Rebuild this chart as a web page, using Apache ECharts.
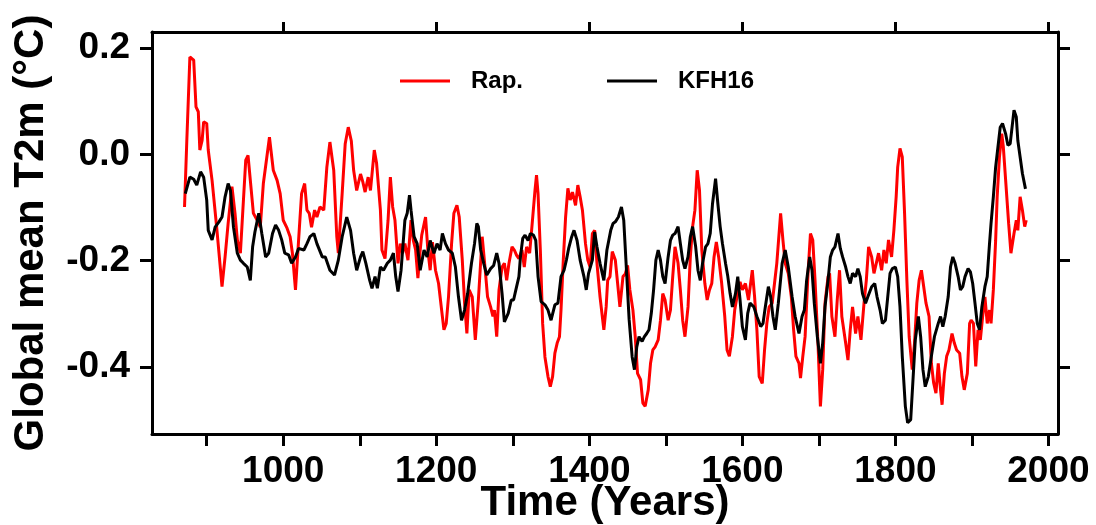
<!DOCTYPE html>
<html>
<head>
<meta charset="utf-8">
<script src="https://cdn.jsdelivr.net/npm/echarts@6/dist/echarts.min.js"></script>
<style>html,body{margin:0;padding:0;background:#fff}#c{width:1096px;height:525px}</style>
</head>
<body>
<div id="c"></div>
<script>
// ---- data ----
const seriesNames = ['Rap.', 'KFH16'];

const rapYears = [871,874,878,883,886,889,891,894,896,900,902,907,913,920,924,928,933,937,940,944,948,951,954,957,961,966,970,974,982,987,992,996,1000,1005,1009,1012,1016,1019,1022,1024,1028,1031,1034,1037,1041,1044,1048,1053,1057,1061,1066,1070,1072,1077,1081,1085,1089,1092,1096,1101,1104,1107,1111,1114,1119,1122,1127,1129,1133,1137,1140,1143,1146,1150,1153,1156,1159,1163,1167,1170,1173,1176,1179,1181,1186,1189,1192,1195,1199,1203,1207,1210,1213,1216,1220,1223,1227,1230,1234,1237,1240,1243,1247,1251,1255,1260,1264,1267,1271,1274,1276,1279,1282,1286,1289,1292,1295,1299,1302,1305,1308,1312,1315,1318,1322,1325,1329,1331,1333,1336,1339,1342,1346,1349,1352,1355,1358,1361,1363,1366,1369,1372,1375,1378,1382,1385,1388,1391,1395,1398,1401,1404,1407,1410,1414,1419,1422,1424,1427,1430,1434,1437,1440,1444,1447,1450,1453,1457,1460,1463,1467,1470,1473,1477,1480,1483,1486,1490,1493,1496,1499,1503,1506,1509,1512,1516,1519,1522,1525,1529,1532,1535,1538,1541,1544,1547,1551,1554,1557,1560,1563,1566,1569,1573,1577,1580,1583,1587,1590,1593,1597,1600,1604,1608,1613,1616,1619,1622,1626,1629,1632,1635,1639,1642,1645,1650,1653,1656,1660,1664,1667,1670,1674,1676,1679,1682,1686,1689,1692,1695,1699,1702,1705,1708,1712,1714,1717,1721,1724,1727,1730,1735,1738,1741,1744,1748,1751,1755,1759,1762,1765,1769,1772,1775,1778,1782,1785,1788,1791,1795,1798,1801,1803,1806,1809,1812,1815,1818,1822,1825,1828,1831,1834,1837,1840,1844,1847,1850,1853,1856,1859,1861,1864,1867,1870,1874,1877,1880,1884,1887,1890,1894,1897,1899,1902,1905,1908,1911,1914,1917,1920,1923,1925,1928,1931,1933,1936,1939,1941,1945,1948,1951,1955,1958,1960,1963,1966,1969,1971];
const rapValues = [-0.099,0.026,0.183,0.177,0.089,0.080,0.008,0.026,0.061,0.058,0.008,-0.049,-0.137,-0.249,-0.193,-0.130,-0.061,-0.111,-0.161,-0.186,-0.086,-0.011,-0.002,-0.049,-0.111,-0.124,-0.137,-0.055,0.032,-0.030,-0.049,-0.074,-0.124,-0.139,-0.155,-0.186,-0.255,-0.186,-0.118,-0.074,-0.055,-0.105,-0.111,-0.137,-0.105,-0.118,-0.099,-0.105,-0.024,0.023,-0.030,-0.155,-0.186,-0.074,0.020,0.051,0.025,-0.030,-0.068,-0.037,-0.052,-0.071,-0.043,-0.068,0.008,-0.017,-0.105,-0.180,-0.196,-0.124,-0.043,-0.099,-0.124,-0.205,-0.168,-0.186,-0.168,-0.199,-0.124,-0.162,-0.180,-0.233,-0.180,-0.152,-0.118,-0.180,-0.218,-0.165,-0.218,-0.243,-0.293,-0.330,-0.318,-0.268,-0.168,-0.111,-0.096,-0.118,-0.199,-0.280,-0.337,-0.255,-0.268,-0.349,-0.274,-0.155,-0.218,-0.268,-0.287,-0.305,-0.293,-0.343,-0.255,-0.212,-0.205,-0.237,-0.205,-0.174,-0.180,-0.190,-0.196,-0.180,-0.212,-0.174,-0.186,-0.136,-0.068,-0.039,-0.074,-0.180,-0.318,-0.381,-0.418,-0.437,-0.418,-0.374,-0.355,-0.343,-0.293,-0.199,-0.118,-0.064,-0.086,-0.071,-0.096,-0.058,-0.080,-0.105,-0.168,-0.199,-0.212,-0.149,-0.143,-0.205,-0.268,-0.330,-0.287,-0.237,-0.230,-0.183,-0.199,-0.243,-0.287,-0.230,-0.225,-0.209,-0.255,-0.293,-0.343,-0.412,-0.424,-0.468,-0.474,-0.443,-0.393,-0.368,-0.362,-0.349,-0.312,-0.262,-0.274,-0.312,-0.293,-0.230,-0.174,-0.205,-0.255,-0.312,-0.343,-0.287,-0.193,-0.136,-0.105,-0.030,-0.068,-0.180,-0.243,-0.274,-0.255,-0.243,-0.193,-0.165,-0.193,-0.243,-0.305,-0.368,-0.380,-0.343,-0.293,-0.268,-0.240,-0.255,-0.243,-0.274,-0.218,-0.268,-0.330,-0.418,-0.431,-0.368,-0.318,-0.287,-0.280,-0.243,-0.205,-0.111,-0.161,-0.205,-0.224,-0.268,-0.330,-0.380,-0.393,-0.421,-0.380,-0.343,-0.218,-0.149,-0.161,-0.237,-0.362,-0.474,-0.405,-0.280,-0.230,-0.224,-0.305,-0.343,-0.274,-0.218,-0.305,-0.355,-0.387,-0.330,-0.287,-0.337,-0.305,-0.349,-0.280,-0.237,-0.174,-0.193,-0.224,-0.205,-0.186,-0.218,-0.180,-0.205,-0.161,-0.193,-0.143,-0.080,-0.024,0.011,-0.005,-0.111,-0.237,-0.343,-0.405,-0.355,-0.280,-0.237,-0.218,-0.249,-0.280,-0.305,-0.393,-0.430,-0.449,-0.393,-0.443,-0.471,-0.412,-0.380,-0.368,-0.337,-0.355,-0.368,-0.374,-0.418,-0.443,-0.412,-0.318,-0.312,-0.318,-0.399,-0.330,-0.349,-0.305,-0.268,-0.318,-0.293,-0.318,-0.255,-0.162,-0.080,-0.005,0.039,0.015,-0.068,-0.130,-0.186,-0.149,-0.124,-0.143,-0.080,-0.105,-0.136,-0.124];

const kfhYears = [872,878,883,887,892,896,900,902,907,911,916,920,924,928,931,935,940,944,948,953,957,960,963,968,972,977,981,986,990,994,998,1002,1007,1011,1016,1020,1027,1031,1035,1040,1044,1051,1055,1061,1067,1072,1077,1083,1088,1092,1096,1101,1104,1108,1113,1116,1120,1123,1127,1131,1136,1140,1144,1147,1150,1154,1159,1162,1165,1167,1171,1175,1179,1184,1188,1192,1197,1201,1205,1208,1212,1216,1221,1225,1229,1233,1237,1241,1246,1250,1253,1255,1258,1262,1266,1271,1275,1279,1282,1286,1289,1294,1298,1301,1304,1308,1310,1313,1316,1320,1323,1327,1330,1333,1337,1342,1346,1350,1355,1359,1363,1367,1370,1373,1377,1380,1384,1388,1393,1396,1399,1404,1407,1410,1414,1419,1423,1428,1431,1434,1438,1442,1445,1449,1452,1456,1459,1462,1465,1469,1472,1475,1478,1481,1484,1487,1490,1493,1496,1499,1503,1506,1509,1512,1516,1519,1522,1525,1529,1532,1535,1539,1542,1545,1548,1552,1555,1558,1561,1565,1568,1571,1574,1578,1581,1584,1587,1591,1594,1597,1600,1604,1607,1610,1615,1619,1624,1627,1630,1634,1637,1640,1643,1647,1652,1656,1660,1665,1669,1674,1678,1681,1684,1688,1691,1694,1698,1702,1705,1708,1712,1715,1718,1721,1725,1728,1731,1735,1738,1741,1744,1748,1751,1754,1757,1761,1764,1769,1773,1776,1780,1783,1787,1790,1793,1796,1800,1803,1806,1809,1813,1816,1820,1823,1826,1830,1833,1836,1839,1843,1847,1851,1856,1859,1862,1865,1869,1872,1875,1878,1882,1885,1888,1891,1895,1898,1901,1904,1907,1910,1913,1917,1920,1923,1925,1928,1931,1935,1937,1940,1944,1947,1950,1952,1955,1958,1960,1963,1966,1970];
const kfhValues = [-0.074,-0.043,-0.047,-0.058,-0.033,-0.043,-0.086,-0.143,-0.161,-0.137,-0.127,-0.118,-0.080,-0.055,-0.068,-0.137,-0.186,-0.199,-0.205,-0.212,-0.237,-0.174,-0.146,-0.111,-0.149,-0.193,-0.186,-0.149,-0.133,-0.143,-0.161,-0.186,-0.189,-0.205,-0.193,-0.177,-0.180,-0.168,-0.155,-0.149,-0.168,-0.193,-0.193,-0.218,-0.227,-0.199,-0.155,-0.118,-0.143,-0.186,-0.218,-0.193,-0.183,-0.205,-0.237,-0.252,-0.230,-0.252,-0.212,-0.218,-0.205,-0.199,-0.186,-0.230,-0.258,-0.218,-0.124,-0.111,-0.077,-0.105,-0.155,-0.168,-0.218,-0.180,-0.193,-0.162,-0.186,-0.168,-0.180,-0.149,-0.168,-0.180,-0.186,-0.212,-0.268,-0.312,-0.293,-0.262,-0.205,-0.168,-0.130,-0.136,-0.180,-0.205,-0.227,-0.215,-0.209,-0.186,-0.205,-0.262,-0.315,-0.299,-0.274,-0.274,-0.255,-0.230,-0.193,-0.158,-0.152,-0.162,-0.149,-0.152,-0.162,-0.230,-0.277,-0.283,-0.293,-0.312,-0.283,-0.280,-0.230,-0.218,-0.199,-0.177,-0.155,-0.143,-0.162,-0.199,-0.230,-0.255,-0.224,-0.199,-0.146,-0.174,-0.205,-0.237,-0.180,-0.143,-0.130,-0.127,-0.118,-0.099,-0.124,-0.230,-0.310,-0.381,-0.405,-0.362,-0.343,-0.352,-0.343,-0.337,-0.330,-0.299,-0.255,-0.199,-0.180,-0.199,-0.230,-0.243,-0.193,-0.162,-0.152,-0.149,-0.136,-0.168,-0.199,-0.215,-0.193,-0.155,-0.136,-0.174,-0.218,-0.237,-0.205,-0.174,-0.168,-0.149,-0.093,-0.046,-0.093,-0.136,-0.168,-0.205,-0.230,-0.262,-0.287,-0.262,-0.230,-0.274,-0.324,-0.349,-0.299,-0.280,-0.287,-0.305,-0.324,-0.318,-0.287,-0.249,-0.268,-0.305,-0.330,-0.280,-0.205,-0.180,-0.212,-0.268,-0.305,-0.337,-0.305,-0.293,-0.237,-0.193,-0.218,-0.280,-0.343,-0.393,-0.355,-0.287,-0.237,-0.193,-0.180,-0.174,-0.149,-0.177,-0.193,-0.212,-0.230,-0.243,-0.224,-0.230,-0.215,-0.230,-0.262,-0.280,-0.268,-0.249,-0.243,-0.268,-0.293,-0.318,-0.312,-0.268,-0.224,-0.215,-0.212,-0.230,-0.287,-0.380,-0.474,-0.505,-0.499,-0.424,-0.349,-0.305,-0.343,-0.405,-0.437,-0.418,-0.380,-0.343,-0.318,-0.305,-0.324,-0.305,-0.268,-0.212,-0.193,-0.205,-0.230,-0.255,-0.249,-0.230,-0.215,-0.221,-0.243,-0.280,-0.318,-0.330,-0.287,-0.249,-0.230,-0.168,-0.130,-0.080,-0.024,0.026,0.051,0.058,0.039,0.017,0.020,0.045,0.083,0.070,0.026,-0.005,-0.036,-0.065];

const xTickValues = [900,1000,1100,1200,1300,1400,1500,1600,1700,1800,1900,2000];
const xLabelValues = [1000,1200,1400,1600,1800,2000];
const yTickValues = [-0.4,-0.2,0,0.2];
const xTitle = 'Time (Years)';
const yTitle = 'Global mean T2m (°C)';

// ---- chart ----
const FONT = '"Liberation Sans", Arial, sans-serif';
const pairs = (xs, ys) => xs.map((x, i) => [x, ys[i]]);
const chart = echarts.init(document.getElementById('c'), null, {renderer: 'canvas'});
const axisLine = {show: true, onZero: false, lineStyle: {color: '#000', width: 3}};
const xMin = 828.5, xMax = 2012.5, yMin = -0.526, yMax = 0.23;

chart.setOption({
  animation: false,
  backgroundColor: '#fff',
  grid: {left: 152, right: 38, top: 32, bottom: 91, containLabel: false, outerBoundsMode: 'none'},
  legend: {
    left: 395, top: 64,
    icon: 'rect', itemWidth: 50, itemHeight: 3, itemGap: 84,
    data: seriesNames,
    textStyle: {fontFamily: FONT, fontWeight: 'bold', fontSize: 24, color: '#000', padding: [0, 0, 0, 16]}
  },
  xAxis: [
    {
      type: 'value', position: 'bottom', min: xMin, max: xMax,
      axisLine: axisLine,
      splitLine: {show: false},
      axisTick: {show: true, inside: false, length: 12, lineStyle: {width: 3, color: '#000'}, customValues: xTickValues},
      axisLabel: {show: true, customValues: xLabelValues, margin: 19, fontFamily: FONT, fontWeight: 'bold', fontSize: 37, color: '#000',
        formatter: v => String(Math.round(v))},
      name: xTitle, nameLocation: 'middle', nameGap: 48, nameMoveOverlap: false,
      nameTextStyle: {fontFamily: FONT, fontWeight: 'bold', fontSize: 42, color: '#000'}
    },
    {
      type: 'value', position: 'top', min: xMin, max: xMax,
      axisLine: axisLine,
      splitLine: {show: false},
      axisTick: {show: true, inside: false, length: 10, lineStyle: {width: 3, color: '#000'}, customValues: xLabelValues},
      axisLabel: {show: false}
    }
  ],
  yAxis: [
    {
      type: 'value', position: 'left', min: yMin, max: yMax,
      axisLine: axisLine,
      splitLine: {show: false},
      axisTick: {show: true, inside: false, length: 12, lineStyle: {width: 3, color: '#000'}, customValues: yTickValues},
      axisLabel: {show: true, customValues: yTickValues, margin: 22, fontFamily: FONT, fontWeight: 'bold', fontSize: 37, color: '#000',
        formatter: v => Number(v).toFixed(1)},
      name: yTitle, nameLocation: 'middle', nameGap: 100, nameRotate: 90,
      nameTextStyle: {fontFamily: FONT, fontWeight: 'bold', fontSize: 42, color: '#000'}
    },
    {
      type: 'value', position: 'right', min: yMin, max: yMax,
      axisLine: axisLine,
      splitLine: {show: false},
      axisTick: {show: true, inside: false, length: 12, lineStyle: {width: 3, color: '#000'}, customValues: yTickValues},
      axisLabel: {show: false}
    }
  ],
  series: [
    {name: seriesNames[0], type: 'line', xAxisIndex: 0, yAxisIndex: 0, data: pairs(rapYears, rapValues),
      symbol: 'none', color: '#ff0000', lineStyle: {color: '#ff0000', width: 3}, z: 2},
    {name: seriesNames[1], type: 'line', xAxisIndex: 0, yAxisIndex: 0, data: pairs(kfhYears, kfhValues),
      symbol: 'none', color: '#000000', lineStyle: {color: '#000000', width: 3}, z: 3}
  ]
});
</script>
</body>
</html>
